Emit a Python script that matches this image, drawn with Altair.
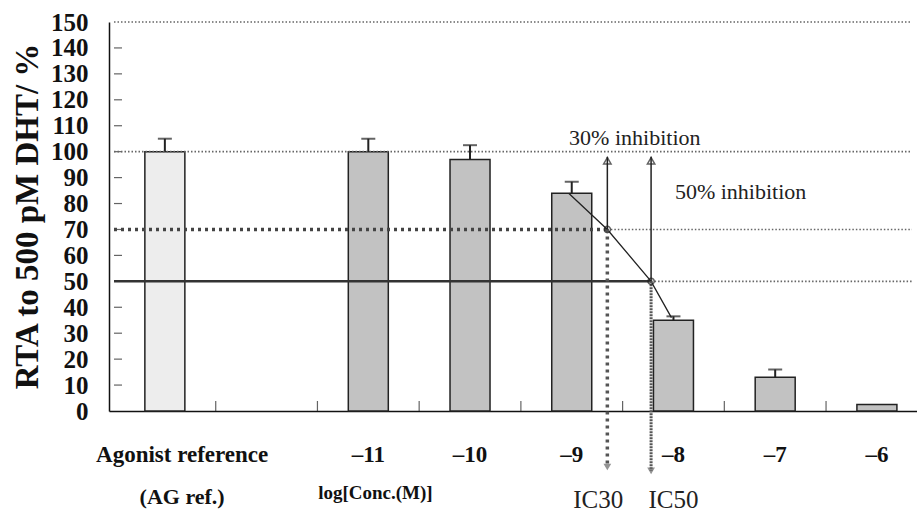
import altair as alt
import pandas as pd

# ---- data ----
positions = [-13, -11, -10, -9, -8, -7, -6]
values = [100, 100, 97, 84, 35, 13, 2.5]
errors = [5, 5, 5.5, 4.4, 1.5, 3, 0]
label_text = ["Agonist reference", "–11", "–10", "–9", "–8", "–7", "–6"]
label_x = [-12.83, -11, -10, -9, -8, -7, -6]
sub_text = ["(AG ref.)", "log[Conc.(M)]"]
sub_x = [-12.83, -10.93]
ic_text = ["IC30", "IC50"]
ic_label_x = [-8.74, -8.0]
ic_x = [-8.65, -8.22]
ic_level = [70, 50]
ref_top = 100
inhib_text = ["30%  inhibition", "50%  inhibition"]
inhib_x = [-8.38, -7.34]
inhib_y = [105.3, 84.5]
slope_x = [-9.03, -8.65, -8.22, -8.02]
slope_y = [84, 70, 50, 36]
y_ticks = list(range(0, 151, 10))
x_bounds = [-12.5, -11.5, -10.5, -9.5, -8.5, -7.5, -6.5]
X0, X1 = -13.5, -5.655
Y0, Y1 = 0, 150
ic_arrow_end = [-21.6, -23.1]

SERIF = "Liberation Serif"
W, H = 808, 389

xs = alt.Scale(domain=[X0, X1], nice=False, zero=False)
ys = alt.Scale(domain=[Y0, Y1], nice=False, zero=False)
x_axis = alt.Axis(labels=False, ticks=False, domain=True, domainColor="#111",
                  domainWidth=1.5, grid=False, title=None)
y_axis = alt.Axis(values=y_ticks, labelFont=SERIF, labelFontWeight="bold",
                  labelFontSize=25, labelColor="#111", labelPadding=21,
                  labelOverlap=False, labelBound=False, ticks=False,
                  domain=True, domainColor="#111", domainWidth=1.5, grid=False,
                  title="RTA to 500 pM DHT/ %", titleFont=SERIF,
                  titleFontWeight="bold", titleFontSize=33, titleColor="#111",
                  titleAngle=270, titleX=-82, titleY=194, titleAlign="center",
                  titleBaseline="middle")


def X(f):
    return alt.X(f, type="quantitative", scale=xs, axis=x_axis)


def Y(f):
    return alt.Y(f, type="quantitative", scale=ys, axis=y_axis)


def Y0datum():
    return alt.Y(datum=0, type="quantitative", scale=ys, axis=y_axis)


bars_df = pd.DataFrame({"pos": positions, "val": values, "err": errors})
bars_df["top"] = bars_df["val"] + bars_df["err"]
err_df = bars_df[bars_df["err"] > 0]

bars = alt.Chart(bars_df).mark_bar(size=40, stroke="#222", strokeWidth=1.5).encode(
    x=X("pos"), y=Y("val"),
    fill=alt.condition(alt.datum.pos == -13, alt.value("#ededed"), alt.value("#c2c2c2")),
)
err_rule = alt.Chart(err_df).mark_rule(color="#222", strokeWidth=2).encode(
    x=X("pos"), y=Y("val"), y2="top")
err_cap = alt.Chart(err_df).mark_tick(orient="horizontal", size=14, thickness=2,
                                      color="#222").encode(x=X("pos"), y=Y("top"))

# inward axis ticks
ytick_df = pd.DataFrame({"x": [X0] * (len(y_ticks) - 2), "y": y_ticks[1:-1]})
yticks = alt.Chart(ytick_df).mark_tick(orient="horizontal", size=8, thickness=1.2,
                                       xOffset=4, color="#222").encode(x=X("x"), y=Y("y"))
xtick_df = pd.DataFrame({"x": x_bounds, "y": [0] * len(x_bounds)})
xticks = alt.Chart(xtick_df).mark_tick(orient="vertical", size=10, thickness=1.2,
                                       yOffset=-5, color="#222").encode(x=X("x"), y=Y("y"))

# horizontal reference lines
thin_h = pd.DataFrame({
    "x": [X0, X0, ic_x[0], ic_x[1]],
    "x2": [X1, X1, X1, X1],
    "y": [Y1, ref_top, ic_level[0], ic_level[1]],
})
thin_lines = alt.Chart(thin_h).mark_rule(color="#666", strokeWidth=1.6,
                                         strokeDash=[1.5, 2]).encode(x=X("x"), x2="x2", y=Y("y"))
h70 = alt.Chart(pd.DataFrame({"x": [X0], "x2": [ic_x[0]], "y": [ic_level[0]]})).mark_rule(
    color="#444", strokeWidth=3.5, strokeDash=[3, 4]).encode(x=X("x"), x2="x2", y=Y("y"))
h50 = alt.Chart(pd.DataFrame({"x": [X0], "x2": [ic_x[1]], "y": [ic_level[1]]})).mark_rule(
    color="#333", strokeWidth=2.5).encode(x=X("x"), x2="x2", y=Y("y"))

# vertical IC arrows
v_up = alt.Chart(pd.DataFrame({"x": ic_x, "y": ic_level, "y2": [ref_top - 2] * 2})).mark_rule(
    color="#222", strokeWidth=1.5).encode(x=X("x"), y=Y("y"), y2="y2")
v30 = alt.Chart(pd.DataFrame({"x": [ic_x[0]], "y": [ic_level[0]], "y2": [ic_arrow_end[0]]})).mark_rule(
    color="#555", strokeWidth=3.5, strokeDash=[3, 4]).encode(x=X("x"), y=Y("y"), y2="y2")
v50 = alt.Chart(pd.DataFrame({"x": [ic_x[1]], "y": [ic_level[1]], "y2": [ic_arrow_end[1]]})).mark_rule(
    color="#555", strokeWidth=3, strokeDash=[2, 1]).encode(x=X("x"), y=Y("y"), y2="y2")
head_up = alt.Chart(pd.DataFrame({"x": ic_x, "y": [ref_top - 3.5] * 2})).mark_point(
    shape="triangle-up", size=55, filled=False, color="#222", strokeWidth=1.5).encode(x=X("x"), y=Y("y"))
head_down = alt.Chart(pd.DataFrame({"x": ic_x, "y": ic_arrow_end})).mark_point(
    shape="triangle-down", size=60, filled=True, color="#666").encode(x=X("x"), y=Y("y"))
dots = alt.Chart(pd.DataFrame({"x": ic_x, "y": ic_level})).mark_point(
    shape="circle", size=40, filled=False, color="#222", strokeWidth=1.5).encode(x=X("x"), y=Y("y"))

# slope line
slope = alt.Chart(pd.DataFrame({"x": slope_x, "y": slope_y})).mark_line(
    color="#222", strokeWidth=1.3).encode(x=X("x"), y=Y("y"))

# texts
inhib = alt.Chart(pd.DataFrame({"x": inhib_x, "y": inhib_y, "t": inhib_text})).mark_text(
    font=SERIF, fontSize=22, color="#222", baseline="middle").encode(x=X("x"), y=Y("y"), text="t:N")
row1 = alt.Chart(pd.DataFrame({"x": label_x, "t": label_text})).mark_text(
    font=SERIF, fontSize=23, fontWeight="bold", color="#111", baseline="middle", dy=44).encode(
    x=X("x"), y=Y0datum(), text="t:N")
row2a = alt.Chart(pd.DataFrame({"x": sub_x[:1], "t": sub_text[:1]})).mark_text(
    font=SERIF, fontSize=22, fontWeight="bold", color="#111", baseline="middle", dy=86).encode(
    x=X("x"), y=Y0datum(), text="t:N")
row2b = alt.Chart(pd.DataFrame({"x": sub_x[1:], "t": sub_text[1:]})).mark_text(
    font=SERIF, fontSize=19, fontWeight="bold", color="#111", baseline="middle", dy=82).encode(
    x=X("x"), y=Y0datum(), text="t:N")
row_ic = alt.Chart(pd.DataFrame({"x": ic_label_x, "t": ic_text})).mark_text(
    font=SERIF, fontSize=25, color="#222", baseline="middle", dy=89).encode(
    x=X("x"), y=Y0datum(), text="t:N")

chart = alt.layer(
    bars, err_rule, err_cap, yticks, xticks, thin_lines, h70, h50, slope,
    v_up, v30, v50, head_up, head_down, dots, inhib, row1, row2a, row2b, row_ic,
).properties(
    width=W, height=H,
    autosize=alt.AutoSizeParams(type="none"),
    padding={"left": 109, "top": 22, "right": 0, "bottom": 102},
).configure_view(stroke=None).configure_axisY(labelOverlap=False)

chart.save("out.html", embed_options={"renderer": "svg", "actions": False})
